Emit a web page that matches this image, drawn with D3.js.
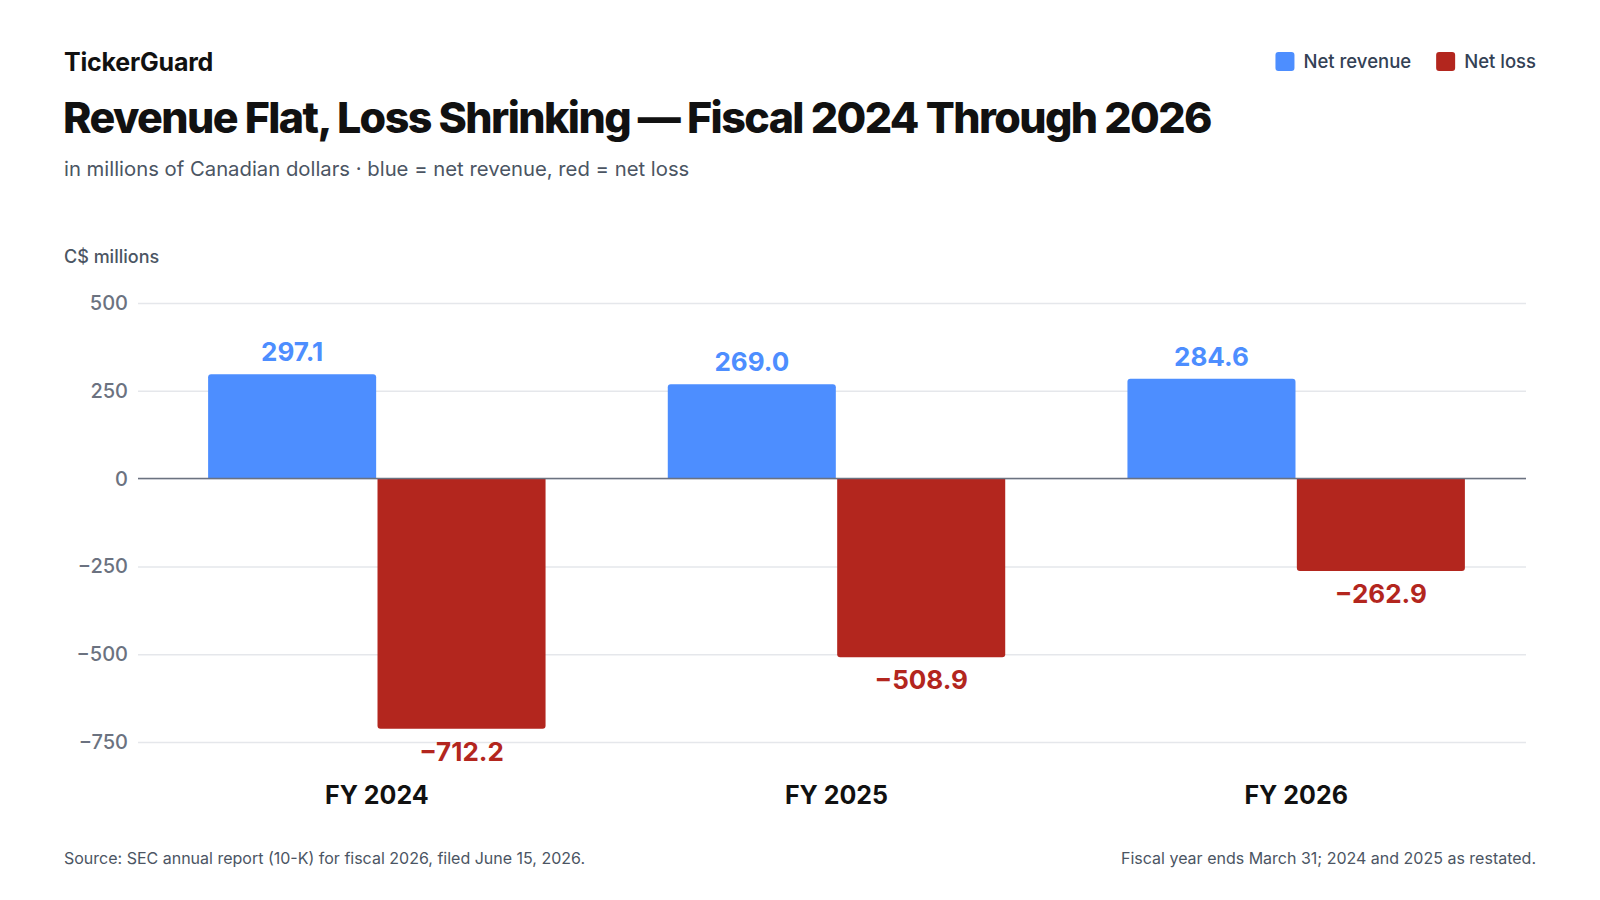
<!DOCTYPE html>
<html>
<head>
<meta charset="utf-8">
<script src="https://cdn.jsdelivr.net/npm/d3@7"></script>
<style>
html, body { margin: 0; padding: 0; background: #fff; }
svg { display: block; font-family: Inter, "Noto Sans", sans-serif; }
</style>
</head>
<body>
<svg id="chart" width="1600" height="900"></svg>
<script>
// data
var years = ["FY 2024", "FY 2025", "FY 2026"];
var netRevenue = [297.1, 269.0, 284.6];
var netLoss = [-712.2, -508.9, -262.9];
var seriesKeys = ["revenue", "loss"];
var seriesNames = ["Net revenue", "Net loss"];
var yTicks = [500, 250, 0, -250, -500, -750];

var colors = { revenue: "#4d8eff", loss: "#b3261e" };

var width = 1600, height = 900;
var margin = { left: 138, right: 74, top: 303, bottom: 158 };

var rows = years.map(function(y, i) {
  return { year: y, revenue: netRevenue[i], loss: netLoss[i] };
});

var svg = d3.select("#chart");

// header
svg.append("text").attr("x", 64).attr("y", 71)
  .attr("font-size", 25).attr("font-weight", 700).attr("fill", "#111")
  .attr("letter-spacing", "-0.2px")
  .text("TickerGuard");

svg.append("text").attr("x", 63).attr("y", 133)
  .attr("font-size", 43).attr("font-weight", 800).attr("fill", "#111")
  .attr("letter-spacing", "-1.6px")
  .text("Revenue Flat, Loss Shrinking \u2014 Fiscal 2024 Through 2026");

svg.append("text").attr("x", 64).attr("y", 176)
  .attr("font-size", 20.3).attr("fill", "#4b5563")
  .text("in millions of Canadian dollars \u00b7 blue = net revenue, red = net loss");

// legend, right aligned
var legend = svg.append("g").attr("class", "legend");
var lx = 1536;
for (var k = seriesKeys.length - 1; k >= 0; k--) {
  var t = legend.append("text").attr("y", 68)
    .attr("font-size", 18.5).attr("font-weight", 500).attr("fill", "#334155")
    .attr("text-anchor", "end").attr("x", lx)
    .text(seriesNames[k]);
  var tw = t.node().getComputedTextLength();
  legend.append("rect")
    .attr("x", lx - tw - 28).attr("y", 52)
    .attr("width", 19).attr("height", 19).attr("rx", 3)
    .attr("fill", colors[seriesKeys[k]]);
  lx = lx - tw - 28 - 25;
}

svg.append("text").attr("x", 64).attr("y", 263)
  .attr("font-size", 18).attr("font-weight", 500).attr("fill", "#4b5563")
  .text("C$ millions");

// scales
var y = d3.scaleLinear().domain([-750, 500]).range([742, 303]);
var x0 = d3.scaleBand().domain(years).range([147, 1526]).paddingInner(0.26).paddingOuter(0.13);
var x1 = d3.scaleBand().domain(seriesKeys).range([0, x0.bandwidth()]).padding(0.008);

var fmt = d3.format(".1f");

// grid + y axis
var yaxis = d3.axisLeft(y).tickValues(yTicks).tickSize(-(1526 - margin.left)).tickPadding(10)
  .tickFormat(d3.format(",d"));
var ax = svg.append("g").attr("class", "yaxis")
  .attr("transform", "translate(" + margin.left + ",0)")
  .call(yaxis);
ax.select(".domain").remove();
ax.selectAll(".tick line").attr("stroke", "#e5e7eb").attr("stroke-width", 1.5);
ax.selectAll(".tick text").attr("font-size", 20).attr("font-weight", 500)
  .attr("fill", "#6b7280").attr("font-family", "Inter, sans-serif");

// rounded-end bar path
function barPath(x, w, v) {
  var r = 3, y0 = y(0), y1 = y(v);
  if (v >= 0) {
    return "M" + x + "," + y0 + "V" + (y1 + r) + "Q" + x + "," + y1 + " " + (x + r) + "," + y1 +
      "H" + (x + w - r) + "Q" + (x + w) + "," + y1 + " " + (x + w) + "," + (y1 + r) + "V" + y0 + "Z";
  }
  return "M" + x + "," + y0 + "V" + (y1 - r) + "Q" + x + "," + y1 + " " + (x + r) + "," + y1 +
    "H" + (x + w - r) + "Q" + (x + w) + "," + y1 + " " + (x + w) + "," + (y1 - r) + "V" + y0 + "Z";
}

var groups = svg.append("g").selectAll("g.year")
  .data(rows).enter().append("g")
  .attr("class", "year")
  .attr("transform", function(d) { return "translate(" + x0(d.year) + ",0)"; });

groups.selectAll("path")
  .data(function(d) { return seriesKeys.map(function(k) { return { key: k, value: d[k] }; }); })
  .enter().append("path")
  .attr("d", function(d) { return barPath(x1(d.key), x1.bandwidth(), d.value); })
  .attr("fill", function(d) { return colors[d.key]; });

groups.selectAll("text.val")
  .data(function(d) { return seriesKeys.map(function(k) { return { key: k, value: d[k] }; }); })
  .enter().append("text")
  .attr("class", "val")
  .attr("x", function(d) { return x1(d.key) + x1.bandwidth() / 2; })
  .attr("y", function(d) { return d.value >= 0 ? y(d.value) - 13 : y(d.value) + 32; })
  .attr("text-anchor", "middle")
  .attr("font-size", 26).attr("font-weight", 700)
  .attr("fill", function(d) { return colors[d.key]; })
  .text(function(d) { return fmt(d.value); });

// zero line
svg.append("line")
  .attr("x1", margin.left).attr("x2", 1526)
  .attr("y1", y(0)).attr("y2", y(0))
  .attr("stroke", "#6b7280").attr("stroke-width", 1.5);

// category labels
svg.append("g").selectAll("text.cat")
  .data(years).enter().append("text")
  .attr("class", "cat")
  .attr("x", function(d) { return x0(d) + x0.bandwidth() / 2; })
  .attr("y", 804)
  .attr("text-anchor", "middle")
  .attr("font-size", 25).attr("font-weight", 700).attr("fill", "#111")
  .text(function(d) { return d; });

// footer
svg.append("text").attr("x", 64).attr("y", 864)
  .attr("font-size", 16).attr("fill", "#4b5563")
  .text("Source: SEC annual report (10-K) for fiscal 2026, filed June 15, 2026.");
svg.append("text").attr("x", 1536).attr("y", 864).attr("text-anchor", "end")
  .attr("font-size", 16).attr("fill", "#4b5563")
  .text("Fiscal year ends March 31; 2024 and 2025 as restated.");
</script>
</body>
</html>
